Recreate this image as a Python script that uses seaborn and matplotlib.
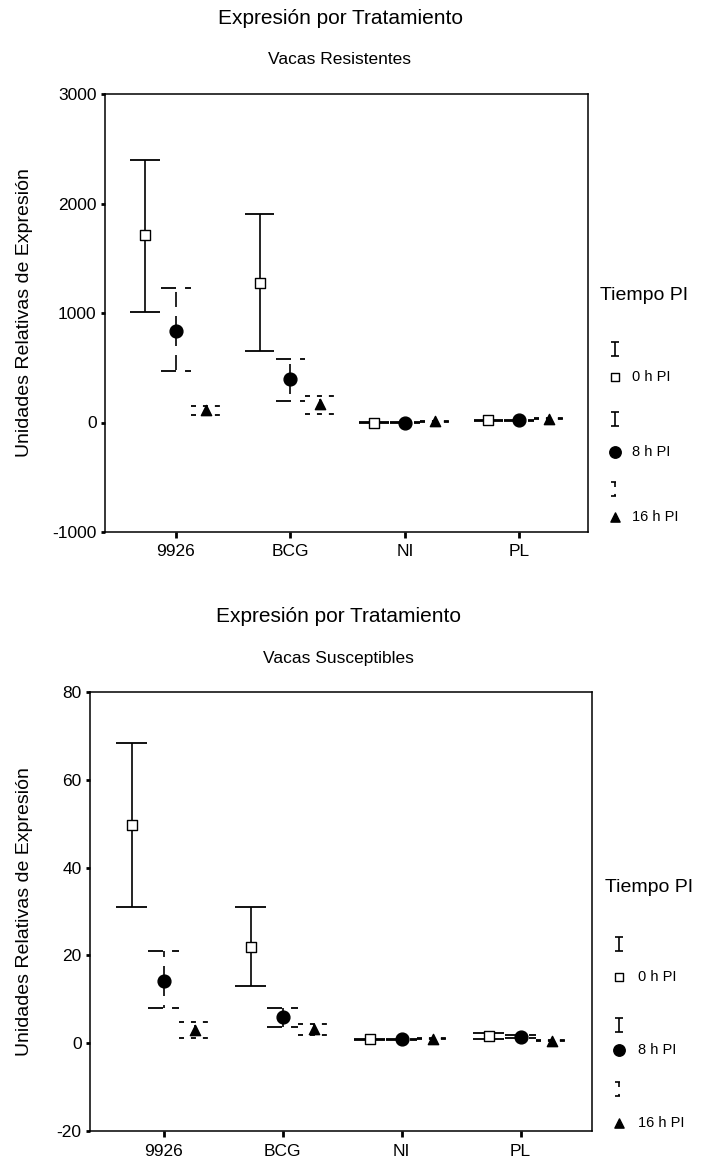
import numpy as np
import pandas as pd
import matplotlib
matplotlib.use("Agg")
import matplotlib.pyplot as plt
import seaborn as sns

# ---------------- data ----------------
categories = ["9926", "BCG", "NI", "PL"]
times = ["0 h PI", "8 h PI", "16 h PI"]

# Vacas Resistentes
res_mean_0h = [1710, 1270, 0, 20]
res_upper_0h = [2400, 1900, 4, 24]
res_lower_0h = [1010, 650, -4, 16]
res_mean_8h = [840, 400, 0, 20]
res_upper_8h = [1230, 580, 4, 24]
res_lower_8h = [470, 200, -4, 16]
res_mean_16h = [115, 165, 10, 35]
res_upper_16h = [150, 240, 13, 38]
res_lower_16h = [70, 80, 7, 32]

# Vacas Susceptibles
sus_mean_0h = [49.8, 21.8, 0.9, 1.6]
sus_upper_0h = [68.3, 31.0, 1.0, 2.3]
sus_lower_0h = [31.0, 13.1, 0.8, 0.9]
sus_mean_8h = [14.2, 6.0, 0.9, 1.5]
sus_upper_8h = [21.1, 8.0, 1.0, 1.9]
sus_lower_8h = [8.0, 3.7, 0.8, 1.1]
sus_mean_16h = [3.0, 3.2, 1.0, 0.6]
sus_upper_16h = [4.8, 4.4, 1.1, 0.7]
sus_lower_16h = [1.1, 1.8, 0.9, 0.5]

res_yticks = [-1000, 0, 1000, 2000, 3000]
sus_yticks = [-20, 0, 20, 40, 60, 80]


def build(means, uppers, lowers):
    rows = []
    for t, m, u, l in zip(times, means, uppers, lowers):
        for c, mv, uv, lv in zip(categories, m, u, l):
            rows.append(dict(cat=c, time=t, mean=mv, hi=uv, lo=lv))
    return pd.DataFrame(rows)


df_res = build([res_mean_0h, res_mean_8h, res_mean_16h],
               [res_upper_0h, res_upper_8h, res_upper_16h],
               [res_lower_0h, res_lower_8h, res_lower_16h])
df_sus = build([sus_mean_0h, sus_mean_8h, sus_mean_16h],
               [sus_upper_0h, sus_upper_8h, sus_upper_16h],
               [sus_lower_0h, sus_lower_8h, sus_lower_16h])

# ---------------- style ----------------
sns.set_style("ticks")
plt.rcParams["font.family"] = ["Liberation Sans", "DejaVu Sans"]
plt.rcParams["lines.scale_dashes"] = False
for k in ["text.color", "axes.labelcolor", "xtick.color", "ytick.color", "axes.edgecolor"]:
    plt.rcParams[k] = "black"

W, H = 701, 1157
fig = plt.figure(figsize=(W / 100, H / 100), dpi=100)

offsets = {"0 h PI": -0.27, "8 h PI": 0.0, "16 h PI": 0.26}
cap_half = 0.13
styles = {
    "0 h PI": dict(ls="solid", marker="s", fc="white", s=45),
    "8 h PI": dict(ls=(0, (10.8, 6.5)), marker="o", fc="black", s=85),
    "16 h PI": dict(ls=(0, (3.6, 5.0)), marker="^", fc="black", s=55),
}


def px_axes(left, top, right, bottom):
    return fig.add_axes([left / W, 1 - bottom / H, (right - left) / W, (bottom - top) / H])


def draw_panel(ax, df, ylim, yticks):
    df = df.copy()
    df["x"] = df["cat"].map({c: i for i, c in enumerate(categories)}) + df["time"].map(offsets)
    for t in times:
        d = df[df["time"] == t]
        st = styles[t]
        ax.vlines(d["x"], d["mean"], d["hi"], colors="black", linewidth=1.2,
                  linestyles=[st["ls"]], zorder=2)
        ax.vlines(d["x"], d["mean"], d["lo"], colors="black", linewidth=1.2,
                  linestyles=[st["ls"]], zorder=2)
        ax.hlines(d["hi"], d["x"] - cap_half, d["x"] + cap_half, colors="black",
                  linewidth=1.3, linestyles=[st["ls"]], zorder=2)
        ax.hlines(d["lo"], d["x"] - cap_half, d["x"] + cap_half, colors="black",
                  linewidth=1.3, linestyles=[st["ls"]], zorder=2)
        sns.scatterplot(data=d, x="x", y="mean", marker=st["marker"], s=st["s"],
                        facecolor=st["fc"], edgecolor="black", linewidth=1.0,
                        ax=ax, zorder=3, legend=False)
    ax.set_xlim(-0.62, 3.6)
    ax.set_ylim(*ylim)
    ax.set_yticks(yticks)
    ax.set_yticklabels([str(v) for v in yticks])
    ax.set_xticks(range(len(categories)))
    ax.set_xticklabels(categories)
    ax.set_xlabel("")
    ax.set_ylabel("Unidades Relativas de Expresión", fontsize=14)
    for sp in ax.spines.values():
        sp.set_visible(True)
        sp.set_linewidth(1.1)
        sp.set_color("black")
    ax.tick_params(axis="y", length=3, width=2, pad=3, labelsize=12.5, direction="out")
    ax.tick_params(axis="x", length=4, width=2, pad=5, labelsize=12.5, direction="out")


ax1 = px_axes(105, 94, 588, 532)
draw_panel(ax1, df_res, (-1000, 3000), res_yticks)
ax1.yaxis.set_label_coords((33 - 105) / 483, 0.5)

ax2 = px_axes(90, 692, 592, 1131)
draw_panel(ax2, df_sus, (-20, 80), sus_yticks)
ax2.yaxis.set_label_coords((33 - 90) / 502, 0.5)

# overlay in pixel coordinates for titles and legends
ov = fig.add_axes([0, 0, 1, 1], zorder=5)
ov.set_xlim(0, W)
ov.set_ylim(H, 0)
ov.axis("off")
ov.patch.set_alpha(0)

ov.text(340, 19, "Expresión por Tratamiento", ha="center", va="center", fontsize=15)
ov.text(340, 59, "Vacas Resistentes", ha="center", va="center", fontsize=12.5)
ov.text(338, 617, "Expresión por Tratamiento", ha="center", va="center", fontsize=15)
ov.text(338, 659, "Vacas Susceptibles", ha="center", va="center", fontsize=12.5)


def legend(x0, title_y, icon_ys, mark_ys, text_x, title_x):
    ov.text(title_x, title_y, "Tiempo PI", ha="left", va="center", fontsize=14)
    for t, iy, my in zip(times, icon_ys, mark_ys):
        st = styles[t]
        ov.vlines([x0], iy - 7, iy + 7, colors="black", linewidth=1.2, linestyles=[st["ls"]])
        ov.hlines([iy - 7, iy + 7], x0 - 4, x0 + 4, colors="black", linewidth=1.2,
                  linestyles=[st["ls"]])
        ov.scatter([x0], [my], marker=st["marker"], s=st["s"] * 0.8, facecolor=st["fc"],
                   edgecolor="black", linewidth=1.0)
        ov.text(text_x, my, t, ha="left", va="center", fontsize=10.5)


legend(615, 295, [349, 419, 489], [377, 452, 517], 632, 600)
legend(619, 888, [944, 1025, 1089], [977, 1050, 1123], 638, 605)

fig.savefig("out.png", dpi=100)
